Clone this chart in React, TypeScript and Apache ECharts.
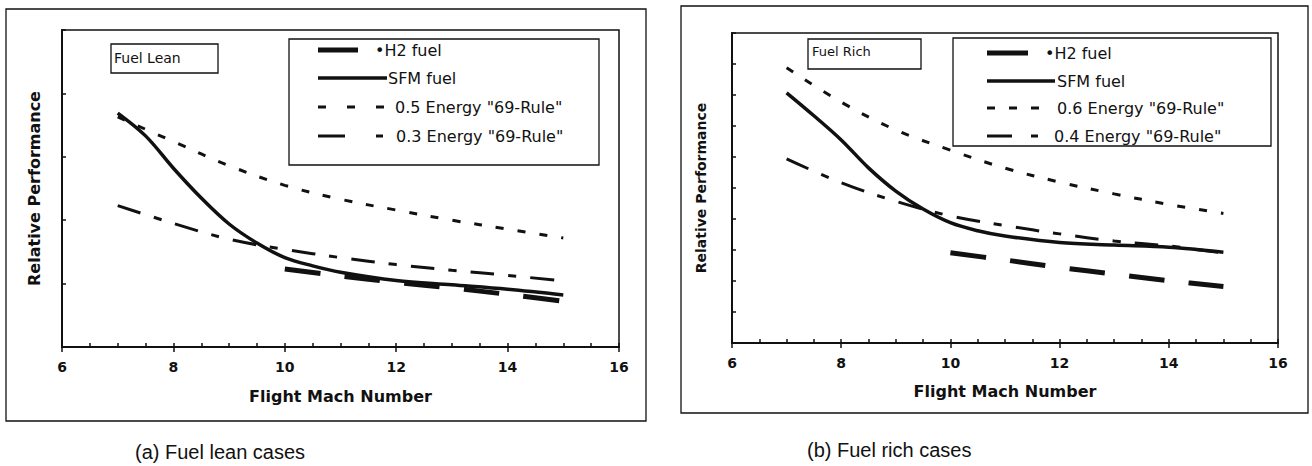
import React, { useEffect, useRef } from "react";
import * as echarts from "echarts";

// Flight Mach numbers
const machX = [7, 7.5, 8, 8.5, 9, 9.5, 10, 10.5, 11, 12, 13, 14, 15];
const ruleX = [7, 8, 9, 10, 11, 12, 13, 14, 15];
const h2X = [10, 11, 12, 13, 14, 15];
const xTickLabels = ["6", "8", "10", "12", "14", "16"];

// (a) Fuel lean
const leanSFM = [3.69, 3.33, 2.82, 2.35, 1.94, 1.64, 1.41, 1.28, 1.18, 1.05, 0.98, 0.91, 0.82];
const leanH2 = [1.23, 1.12, 1.02, 0.93, 0.83, 0.72];
const lean05 = [3.63, 3.24, 2.86, 2.55, 2.33, 2.16, 2.0, 1.86, 1.72];
const lean03 = [2.23, 1.95, 1.7, 1.54, 1.41, 1.3, 1.21, 1.13, 1.04];

// (b) Fuel rich
const richSFM = [8.07, 7.33, 6.55, 5.65, 4.9, 4.32, 3.88, 3.62, 3.45, 3.24, 3.16, 3.09, 2.93];
const richH2 = [2.91, 2.68, 2.44, 2.22, 2.01, 1.82];
const rich06 = [8.88, 7.77, 6.87, 6.22, 5.64, 5.19, 4.81, 4.47, 4.18];
const rich04 = [5.94, 5.17, 4.57, 4.1, 3.79, 3.52, 3.29, 3.13, 2.9];

const leanLegend = ["\u2022H2 fuel", "SFM fuel", '0.5 Energy "69-Rule"', '0.3 Energy "69-Rule"'];
const richLegend = ["\u2022H2 fuel", "SFM fuel", '0.6 Energy "69-Rule"', '0.4 Energy "69-Rule"'];

const zip = (xs: number[], ys: number[]) => xs.map((x, i) => [x, ys[i]]);

const BLACK = "#111";
const FONT = "DejaVu Sans";
const DASH_SHORT = [8, 14];
const DASH_DOT = [24, 14, 8, 14];
const DASH_LONG = [36, 24];

export default function App() {
  const ref = useRef<HTMLDivElement>(null);

  useEffect(() => {
    document.body.style.margin = "0";
    const chart = echarts.init(ref.current!, undefined, { renderer: "svg" });

    const grids = [
      { left: 62, top: 30, width: 557, height: 317 },
      { left: 732, top: 33, width: 546, height: 310 },
    ];

    const xAxes: any[] = [];
    const yAxes: any[] = [];
    [0, 1].forEach((g) => {
      xAxes.push({
        gridIndex: g,
        type: "value",
        min: 6,
        max: 16,
        interval: 0.5,
        axisLine: { onZero: false, lineStyle: { color: BLACK, width: 2 } },
        axisTick: { inside: true, length: 4, lineStyle: { color: BLACK, width: 1.5 } },
        axisLabel: { show: false },
        splitLine: { show: false },
      });
      xAxes.push({
        gridIndex: g,
        type: "value",
        position: "bottom",
        min: 6,
        max: 16,
        interval: 2,
        axisLine: { show: false, onZero: false },
        axisTick: { inside: false, length: 5, lineStyle: { color: BLACK, width: 1.5 } },
        axisLabel: {
          margin: 13,
          color: BLACK,
          fontFamily: FONT,
          fontWeight: "bold",
          fontSize: 14,
          formatter: (v: number) => xTickLabels[(v - 6) / 2] ?? "",
        },
        splitLine: { show: false },
        name: "Flight Mach Number",
        nameLocation: "middle",
        nameGap: g === 0 ? 41 : 40,
        nameTextStyle: { color: BLACK, fontFamily: FONT, fontWeight: "bold", fontSize: 16 },
      });
      yAxes.push({
        gridIndex: g,
        type: "value",
        min: 0,
        max: g === 0 ? 5 : 10,
        interval: 1,
        axisLine: { onZero: false, lineStyle: { color: BLACK, width: 2 } },
        axisTick: { inside: true, length: 4, lineStyle: { color: BLACK, width: 1.5 } },
        axisLabel: { show: false },
        splitLine: { show: false },
        name: "Relative Performance",
        nameLocation: "middle",
        nameGap: g === 0 ? 20 : 24,
        nameTextStyle: { color: BLACK, fontFamily: FONT, fontWeight: "bold", fontSize: g === 0 ? 16 : 14 },
      });
    });

    const mk = (name: string, g: number, data: number[][], width: number, type: any) => ({
      name,
      type: "line",
      xAxisIndex: g * 2,
      yAxisIndex: g,
      data,
      showSymbol: false,
      smooth: 0.35,
      lineStyle: { color: BLACK, width, type, cap: "butt" },
      silent: true,
    });

    const series = [
      mk("SFM lean", 0, zip(machX, leanSFM), 3.5, "solid"),
      mk("H2 lean", 0, zip(h2X, leanH2), 5, DASH_LONG),
      mk("0.5 lean", 0, zip(ruleX, lean05), 3, DASH_SHORT),
      mk("0.3 lean", 0, zip(ruleX, lean03), 3, DASH_DOT),
      mk("SFM rich", 1, zip(machX, richSFM), 3.5, "solid"),
      mk("H2 rich", 1, zip(h2X, richH2), 5, DASH_LONG),
      mk("0.6 rich", 1, zip(ruleX, rich06), 3, DASH_SHORT),
      mk("0.4 rich", 1, zip(ruleX, rich04), 3, DASH_DOT),
    ];

    const rect = (x: number, y: number, w: number, h: number, lw = 1.3) => ({
      type: "rect",
      shape: { x, y, width: w, height: h },
      style: { fill: "none", stroke: BLACK, lineWidth: lw },
      silent: true,
    });
    const seg = (x1: number, x2: number, y: number, lw: number, dash?: number[]) => ({
      type: "line",
      shape: { x1, y1: y, x2, y2: y },
      style: { stroke: BLACK, lineWidth: lw, lineDash: dash, lineCap: "butt" },
      silent: true,
    });
    const txt = (text: string, x: number, y: number, size: number, family = FONT, weight = "normal") => ({
      type: "text",
      x,
      y,
      style: {
        text,
        fill: BLACK,
        fontSize: size,
        fontFamily: family,
        fontWeight: weight,
        verticalAlign: "middle",
        align: "left",
      },
      silent: true,
    });

    const graphic = [
      // (a) frame and boxes
      rect(6, 9, 640, 412),
      rect(111, 44, 107, 29),
      txt("Fuel Lean", 114, 58, 14),
      rect(289, 39, 310, 126),
      seg(318, 358, 50, 5),
      seg(318, 387, 78, 3.5),
      seg(318, 385, 107, 3, [8, 21]),
      seg(318, 384, 136, 3, [27, 31, 7, 100]),
      txt(leanLegend[0], 375, 50, 16),
      txt(leanLegend[1], 388, 78, 16),
      txt(leanLegend[2], 395, 107, 16),
      txt(leanLegend[3], 396, 136, 16),
      txt("(a) Fuel lean cases", 135, 452, 20, "Liberation Sans"),
      // (b) frame and boxes
      rect(681, 6, 627, 407),
      rect(808, 39, 113, 30),
      txt("Fuel Rich", 812, 51, 13),
      rect(953, 38, 318, 108),
      seg(987, 1028, 53, 5),
      seg(987, 1055, 81, 3.5),
      seg(987, 1039, 108, 3, [8, 14]),
      seg(987, 1038, 136, 3, [25, 19, 7, 100]),
      txt(richLegend[0], 1045, 53, 16),
      txt(richLegend[1], 1057, 81, 16),
      txt(richLegend[2], 1057, 108, 16),
      txt(richLegend[3], 1054, 136, 16),
      txt("(b) Fuel rich cases", 807, 450, 20, "Liberation Sans"),
    ];

    chart.setOption({
      animation: false,
      backgroundColor: "#fff",
      grid: grids.map((g) => ({ ...g, show: true, borderColor: BLACK, borderWidth: 1.5, backgroundColor: "transparent", containLabel: false })),
      xAxis: xAxes,
      yAxis: yAxes,
      series,
      graphic,
    });

    return () => chart.dispose();
  }, []);

  return <div ref={ref} style={{ width: 1312, height: 466 }} />;
}
